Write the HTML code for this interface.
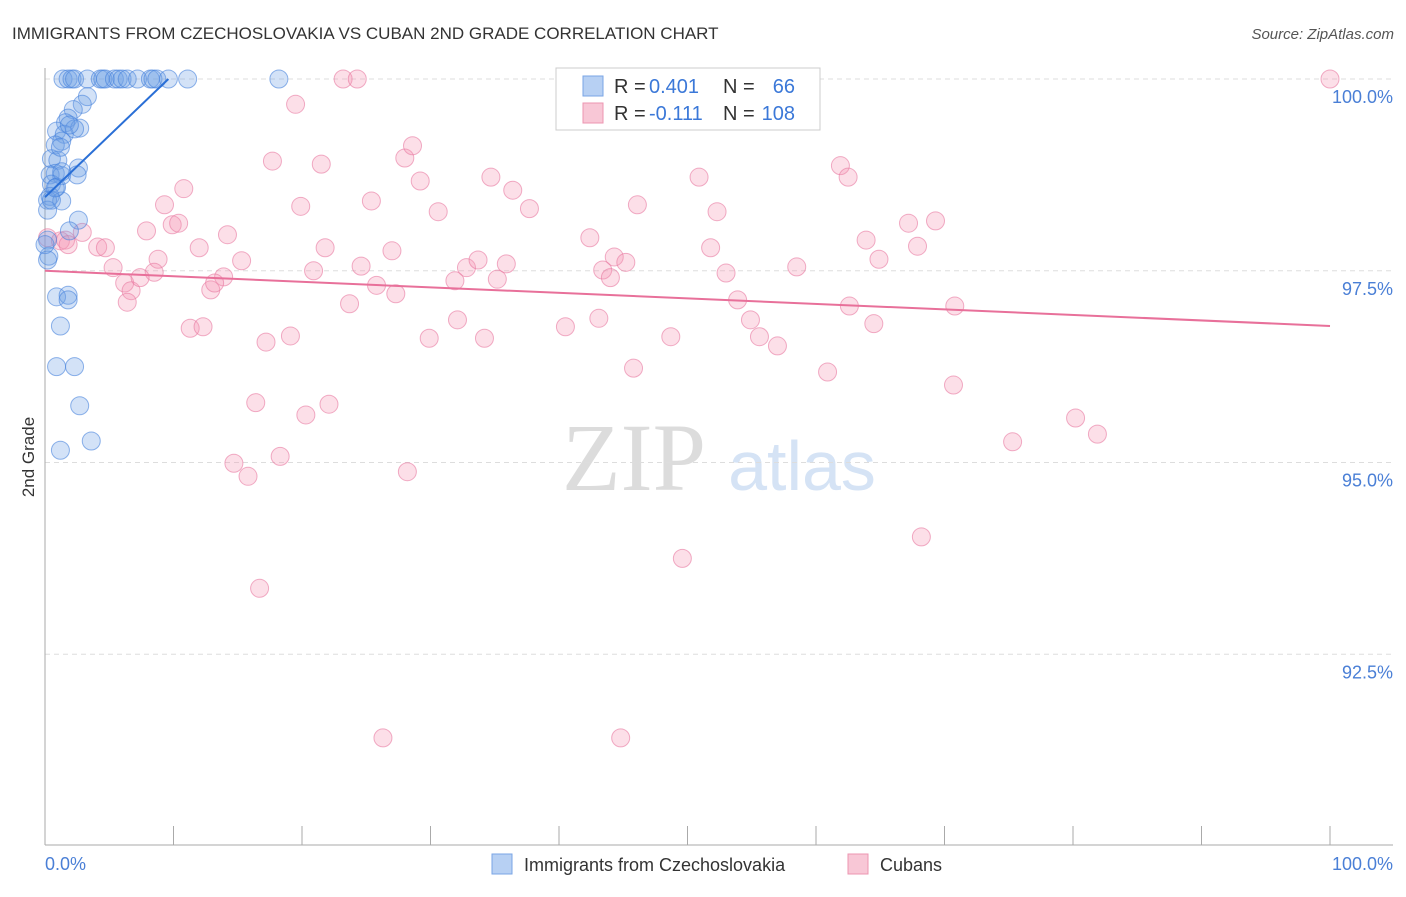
<!DOCTYPE html>
<html><head><meta charset="utf-8"><style>
body{margin:0;background:#fff;font-family:"Liberation Sans",sans-serif;}
</style></head><body>
<svg id="chart" width="1406" height="892" xmlns="http://www.w3.org/2000/svg" font-family="Liberation Sans, sans-serif">
<text x="12" y="39" font-size="17" fill="#333">IMMIGRANTS FROM CZECHOSLOVAKIA VS CUBAN 2ND GRADE CORRELATION CHART</text>
<text x="1394" y="39" font-size="15" fill="#555" font-style="italic" text-anchor="end">Source: ZipAtlas.com</text>
<text x="34" y="457" font-size="17" fill="#333" text-anchor="middle" transform="rotate(-90 34 457)">2nd Grade</text>
<g>
<text x="634" y="490" font-size="96" fill="#dcdcdc" text-anchor="middle" font-family="Liberation Serif, serif">ZIP</text>
<text x="802" y="490" font-size="70" fill="#d5e3f5" text-anchor="middle">atlas</text>
</g>
<g id="grid"></g><g id="axes"></g><g id="pts"></g><g id="lines"></g>
<g>
<rect x="556" y="68" width="264" height="62" fill="#fff" stroke="#ccc"/>
<rect x="583" y="76" width="20" height="20" fill="#b7d0f3" stroke="#7aa5e6"/>
<text x="614" y="93" font-size="20" fill="#333">R =</text>
<text x="649" y="93" font-size="20" fill="#3b78d8">0.401</text>
<text x="723" y="93" font-size="20" fill="#333">N =</text>
<text x="795" y="93" font-size="20" fill="#3b78d8" text-anchor="end">66</text>
<rect x="583" y="103" width="20" height="20" fill="#f8c7d6" stroke="#ec95b0"/>
<text x="614" y="120" font-size="20" fill="#333">R =</text>
<text x="649" y="120" font-size="20" fill="#3b78d8">-0.111</text>
<text x="723" y="120" font-size="20" fill="#333">N =</text>
<text x="795" y="120" font-size="20" fill="#3b78d8" text-anchor="end">108</text>
</g>
<g>
<rect x="492" y="854" width="20" height="20" fill="#b7d0f3" stroke="#7aa5e6"/>
<text x="524" y="871" font-size="18" fill="#333">Immigrants from Czechoslovakia</text>
<rect x="848" y="854" width="20" height="20" fill="#f8c7d6" stroke="#ec95b0"/>
<text x="880" y="871" font-size="18" fill="#333">Cubans</text>
</g>
</svg>
<script>
const yTicks=[100,97.5,95,92.5];
const yTickLabels=["100.0%","97.5%","95.0%","92.5%"];
const xTickLabels=["0.0%","100.0%"];
const blueX=[1.4,1.8,2.1,2.3,3.3,4.3,4.5,4.7,5.4,5.7,6.0,6.4,7.2,8.2,8.4,8.7,9.6,11.1,18.2,3.3,2.9,2.2,1.8,1.6,2.7,0.9,1.5,2.3,1.3,0.8,0.5,1.0,2.6,0.8,0.4,1.3,2.5,0.5,0.9,0.4,0.2,1.3,0.2,2.6,1.9,0.2,0.3,0.9,1.8,1.8,1.2,0.9,2.3,2.7,3.6,1.2,0,0.2,1.3,1.9,1.2,0.5,0.8];
const blueY=[100,100,100,100,100,100,100,100,100,100,100,100,100,100,100,100,100,100,100,99.77,99.67,99.6,99.49,99.43,99.36,99.32,99.28,99.35,99.19,99.14,98.96,98.94,98.84,98.77,98.75,98.74,98.75,98.63,98.59,98.47,98.42,98.41,98.29,98.16,98.02,97.9,97.69,97.16,97.18,97.12,96.78,96.25,96.25,95.74,95.28,95.16,97.84,97.64,98.79,99.4,99.11,98.42,98.58];
const pinkX=[100,23.2,24.3,19.5,17.7,21.5,28.0,28.6,61.9,62.5,10.8,19.9,9.3,25.4,29.2,34.7,36.4,37.7,30.6,46.1,50.9,52.3,67.2,69.3,9.9,10.4,7.9,14.2,12.0,21.8,27.0,42.4,51.8,63.9,67.9,64.9,0.2,1.2,1.6,2.9,4.1,4.7,1.8,5.3,6.2,6.7,8.8,8.5,7.4,6.4,15.3,13.9,12.9,13.2,20.9,24.6,25.8,27.3,23.7,32.8,33.7,35.9,35.2,31.9,43.4,44.3,45.2,44.0,53.0,58.5,53.9,62.6,70.8,11.3,12.3,17.2,19.1,29.9,32.1,34.2,40.5,43.1,48.7,54.9,55.6,57.0,64.5,45.8,60.9,70.7,16.4,20.3,22.1,14.7,15.8,18.3,28.2,80.2,81.9,75.3,49.6,68.2,16.7,26.3,44.8];
const pinkY=[100,100,100,99.67,98.93,98.89,98.97,99.13,98.87,98.72,98.57,98.34,98.36,98.41,98.67,98.72,98.55,98.31,98.27,98.36,98.72,98.27,98.12,98.15,98.1,98.12,98.02,97.97,97.8,97.8,97.76,97.93,97.8,97.9,97.82,97.65,97.93,97.89,97.9,98.0,97.81,97.8,97.84,97.54,97.34,97.24,97.65,97.48,97.41,97.09,97.63,97.42,97.25,97.34,97.5,97.56,97.31,97.2,97.07,97.54,97.64,97.59,97.39,97.37,97.51,97.68,97.61,97.41,97.47,97.55,97.12,97.04,97.04,96.75,96.77,96.57,96.65,96.62,96.86,96.62,96.77,96.88,96.64,96.86,96.64,96.52,96.81,96.23,96.18,96.01,95.78,95.62,95.76,94.99,94.82,95.08,94.88,95.58,95.37,95.27,93.75,94.03,93.36,91.41,91.41];
const blueTrend=[[0,98.46],[9.6,100]];
const pinkTrend=[[0,97.5],[100,96.78]];
const NS="http://www.w3.org/2000/svg";
const xs=v=>45+v*12.85, ys=v=>79+(100-v)*76.7;
function mk(t,a,p){const e=document.createElementNS(NS,t);for(const k in a)e.setAttribute(k,a[k]);document.getElementById(p).appendChild(e);return e;}
yTicks.forEach((t,i)=>{
 const g=mk('line',{x1:45,x2:1393,y1:ys(t),y2:ys(t),stroke:'#ddd','stroke-dasharray':'5,4'},'grid');
 
 
 const l=mk('text',{x:1393,y:ys(t)+24,'font-size':18,fill:'#4a7fd6','text-anchor':'end'},'grid');
 l.textContent=yTickLabels[i];
 
 
});
const ax=mk('line',{x1:45,x2:1393,y1:845,y2:845,stroke:'#aaa'},'axes');


const ay=mk('line',{x1:45,x2:45,y1:68,y2:845,stroke:'#aaa'},'axes');


for(let i=0;i<=10;i++){const t=mk('line',{x1:xs(i*10),x2:xs(i*10),y1:826,y2:845,stroke:'#aaa'},'axes');
 
 }
const x0=mk('text',{x:45,y:870,'font-size':18,fill:'#4a7fd6'},'axes');x0.textContent=xTickLabels[0];


const x1=mk('text',{x:1393,y:870,'font-size':18,fill:'#4a7fd6','text-anchor':'end'},'axes');x1.textContent=xTickLabels[1];


pinkX.forEach((x,i)=>{const c=mk('circle',{cx:xs(x),cy:ys(pinkY[i]),r:9,fill:'rgba(244,150,180,0.3)',stroke:'rgba(232,120,160,0.6)'},'pts');
 
 });
blueX.forEach((x,i)=>{const c=mk('circle',{cx:xs(x),cy:ys(blueY[i]),r:9,fill:'rgba(110,160,230,0.3)',stroke:'rgba(70,130,220,0.6)'},'pts');
 
 });
const bl=mk('line',{x1:xs(blueTrend[0][0]),y1:ys(blueTrend[0][1]),x2:xs(blueTrend[1][0]),y2:ys(blueTrend[1][1]),stroke:'#2a6fd6','stroke-width':2},'lines');


const pl=mk('line',{x1:xs(pinkTrend[0][0]),y1:ys(pinkTrend[0][1]),x2:xs(pinkTrend[1][0]),y2:ys(pinkTrend[1][1]),stroke:'#e8709a','stroke-width':2},'lines');


</script>
</body></html>
